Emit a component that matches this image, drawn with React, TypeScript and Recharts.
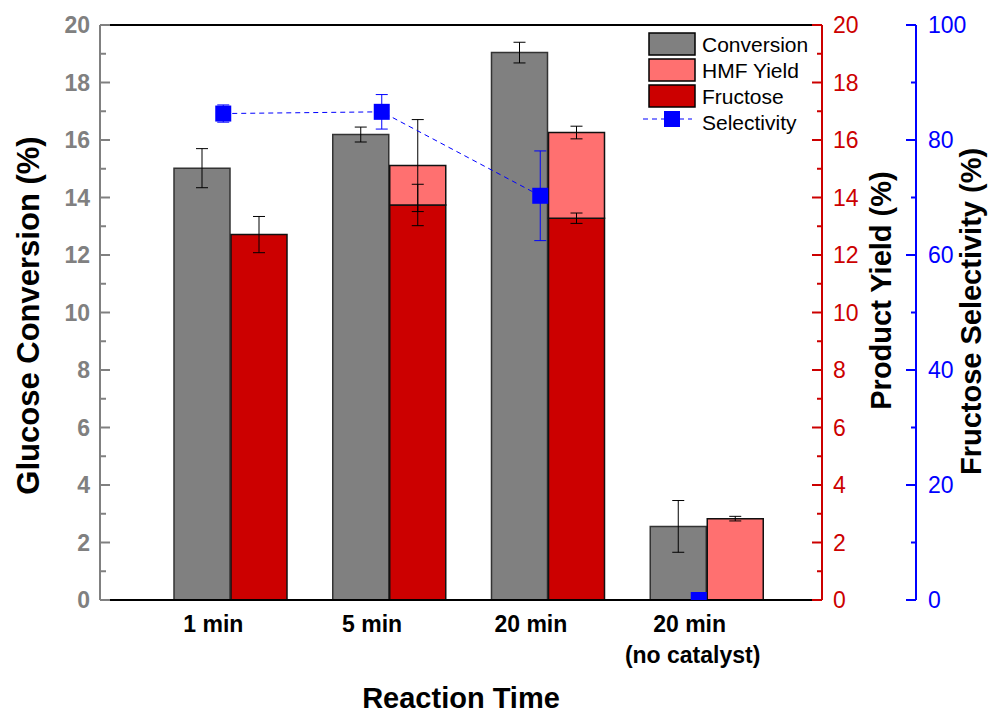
import {
  Bar,
  ComposedChart,
  ErrorBar,
  Line,
  ReferenceLine,
  XAxis,
  YAxis,
} from "recharts";

const categories = ["1 min", "5 min", "20 min", "20 min|(no catalyst)"];
const conversion = [15.02, 16.19, 19.04, 2.56];
const conversionErr = [0.68, 0.26, 0.36, 0.9];
const fructose = [12.71, 13.74, 13.28, 0];
const fructoseErr = [0.63, 0.72, 0.18, 0];
const hmf = [0, 1.37, 2.98, 2.83];
const totalYieldErr = [0, 1.6, 0.22, 0.08];
const selectivity = [84.6, 84.9, 70.3, null];
const selectivityErr = [1.5, 3.0, 7.8, null];
const selectivityNoCat = [null, null, null, 0];

const leftTicks = Array.from({ length: 21 }, (_, i) => i);
const selTicks = Array.from({ length: 11 }, (_, i) => i * 10);

const legendItems = ["Conversion", "HMF Yield", "Fructose", "Selectivity"];

const GRAY = "#808080";
const PINK = "#FF7070";
const RED = "#CC0000";
const BLUE = "#0000FF";
const FONT = "'Liberation Sans', Arial, sans-serif";

const data = categories.map((time, i) => ({
  time,
  conversion: conversion[i],
  conversionErr: conversionErr[i],
  fructose: fructose[i],
  fructoseErr: fructoseErr[i],
  hmf: hmf[i],
  totalYieldErr: totalYieldErr[i],
  selectivity: selectivity[i],
  selectivityErr: selectivityErr[i],
  selectivityNoCat: selectivityNoCat[i],
}));

const LeftTick = ({ x, y, payload }: any) => {
  const v = payload.value;
  const major = v % 2 === 0;
  return (
    <g>
      <line x1={x} x2={x + (major ? 10 : 6)} y1={y} y2={y} stroke={GRAY} strokeWidth={2} />
      {major && (
        <text x={x - 10} y={y} dy="0.36em" textAnchor="end" fontSize={23} fontWeight="bold" fill={GRAY}>
          {v}
        </text>
      )}
    </g>
  );
};

const makeRightTick = (color: string, step: number, gap: number) => ({ x, y, payload }: any) => {
  const v = payload.value;
  const major = v % step === 0;
  return (
    <g>
      <line x1={x} x2={x - (major ? 10 : 5)} y1={y} y2={y} stroke={color} strokeWidth={2} />
      {major && (
        <text x={x + gap} y={y} dy="0.36em" textAnchor="start" fontSize={23} fill={color}>
          {v}
        </text>
      )}
    </g>
  );
};

const RedTick = makeRightTick(RED, 2, 11);
const BlueTick = makeRightTick(BLUE, 20, 12);

const CategoryTick = ({ x, y, payload }: any) => {
  const lines = String(payload.value).split("|");
  return (
    <g>
      {lines.map((t, i) => (
        <text
          key={i}
          x={x}
          y={y}
          dx={i === 0 ? -17 : -14}
          dy={32 + i * 31}
          textAnchor="middle"
          fontSize={23}
          fontWeight="bold"
          fill="#000"
        >
          {t}
        </text>
      ))}
    </g>
  );
};

const SquareDot = (props: any) => {
  const { cx, cy, index } = props;
  if (cx == null || cy == null) return <g key={index} />;
  return <rect key={index} x={cx - 8} y={cy - 8} width={16} height={16} fill={BLUE} />;
};

const ChartLegend = () => {
  const swatches = [GRAY, PINK, RED];
  return (
    <svg
      width={200}
      height={110}
      style={{ position: "absolute", left: 640, top: 28, fontFamily: FONT }}
    >
      {legendItems.map((name, i) => {
        const cy = 16 + i * 26;
        return (
          <g key={name}>
            {i < 3 ? (
              <rect x={9} y={cy - 11} width={46} height={22} fill={swatches[i]} stroke="#000" strokeWidth={1.5} />
            ) : (
              <g>
                <line x1={3} x2={52} y1={cy - 3} y2={cy - 3} stroke={BLUE} strokeWidth={1} strokeDasharray="5 4" />
                <rect x={24} y={cy - 11} width={16} height={16} fill={BLUE} />
              </g>
            )}
            <text x={62} y={cy} dy="0.36em" fontSize={21} fill="#000">
              {name}
            </text>
          </g>
        );
      })}
    </svg>
  );
};

export default function App() {
  return (
    <div style={{ position: "absolute", left: 0, top: 0, width: 994, height: 715, fontFamily: FONT, background: "#fff" }}>
      <ComposedChart
        width={994}
        height={715}
        data={data}
        margin={{ top: 25, right: 0, bottom: 0, left: 0 }}
        barGap={1}
      >
        <XAxis
          dataKey="time"
          height={115}
          padding={{ left: 51, right: 36 }}
          tickLine={false}
          tickSize={0}
          tickMargin={0}
          interval={0}
          tick={<CategoryTick />}
          axisLine={{ stroke: "#000", strokeWidth: 2 }}
          label={{
            value: "Reaction Time",
            position: "insideBottom",
            offset: 7,
            fontSize: 29,
            fontWeight: "bold",
            fill: "#000",
          }}
        />
        <XAxis xAxisId="sel" dataKey="time" hide padding={{ left: 44, right: 44 }} />
        <YAxis
          yAxisId="l1"
          orientation="left"
          width={100}
          domain={[0, 20]}
          ticks={leftTicks}
          interval={0}
          tickLine={false}
          tickSize={0}
          tickMargin={0}
          tick={<LeftTick />}
          axisLine={{ stroke: GRAY, strokeWidth: 2 }}
          label={{
            value: "Glucose Conversion (%)",
            angle: -90,
            position: "center",
            dx: -22,
            dy: 3,
            fontSize: 31,
            fontWeight: "bold",
            fill: "#000",
          }}
        />
        <YAxis
          yAxisId="r1"
          orientation="right"
          width={94}
          domain={[0, 20]}
          ticks={leftTicks}
          interval={0}
          tickLine={false}
          tickSize={0}
          tickMargin={0}
          tick={<RedTick />}
          axisLine={{ stroke: RED, strokeWidth: 2 }}
          label={{
            value: "Product Yield (%)",
            angle: -90,
            position: "center",
            dx: 12,
            dy: -22,
            fontSize: 29,
            fontWeight: "bold",
            fill: "#000",
          }}
        />
        <YAxis
          yAxisId="r2"
          orientation="right"
          width={78}
          domain={[0, 100]}
          ticks={selTicks}
          interval={0}
          allowDataOverflow
          tickLine={false}
          tickSize={0}
          tickMargin={0}
          tick={<BlueTick />}
          axisLine={{ stroke: BLUE, strokeWidth: 2 }}
          label={{
            value: "Fructose Selectivity (%)",
            angle: -90,
            position: "center",
            dx: 16,
            dy: -1,
            fontSize: 29,
            fontWeight: "bold",
            fill: "#000",
          }}
        />
        <ReferenceLine yAxisId="l1" y={20} stroke="#000" strokeWidth={2} />
        <Bar
          yAxisId="l1"
          dataKey="conversion"
          stackId="a_conv"
          barSize={56}
          fill={GRAY}
          stroke="#333"
          strokeWidth={1.5}
          isAnimationActive={false}
        >
          <ErrorBar dataKey="conversionErr" width={6} stroke="#000" strokeWidth={1} />
        </Bar>
        <Bar
          yAxisId="r1"
          dataKey="fructose"
          stackId="b_yield"
          barSize={56}
          fill={RED}
          stroke="#111"
          strokeWidth={1.5}
          isAnimationActive={false}
        >
          <ErrorBar dataKey="fructoseErr" width={6} stroke="#000" strokeWidth={1} />
        </Bar>
        <Bar
          yAxisId="r1"
          dataKey="hmf"
          stackId="b_yield"
          barSize={56}
          fill={PINK}
          stroke="#111"
          strokeWidth={1.5}
          isAnimationActive={false}
        >
          <ErrorBar dataKey="totalYieldErr" width={6} stroke="#000" strokeWidth={1} />
        </Bar>
        <Line
          xAxisId="sel"
          yAxisId="r2"
          dataKey="selectivity"
          stroke={BLUE}
          strokeWidth={1}
          strokeDasharray="5 4"
          dot={<SquareDot />}
          activeDot={false}
          isAnimationActive={false}
        >
          <ErrorBar dataKey="selectivityErr" width={6} stroke={BLUE} strokeWidth={1} />
        </Line>
        <Line
          xAxisId="sel"
          yAxisId="r2"
          dataKey="selectivityNoCat"
          stroke="none"
          dot={<SquareDot />}
          activeDot={false}
          isAnimationActive={false}
        />
      </ComposedChart>
      <ChartLegend />
    </div>
  );
}
